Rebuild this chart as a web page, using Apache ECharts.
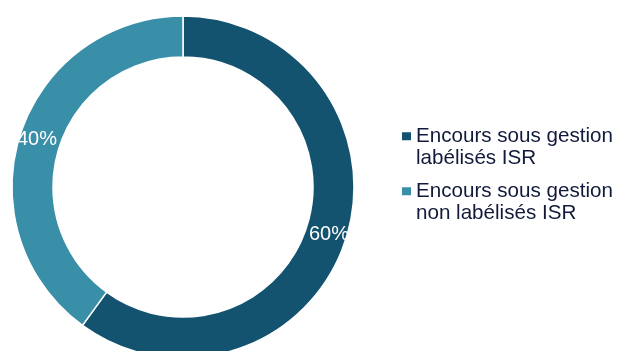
<!DOCTYPE html>
<html>
<head>
<meta charset="utf-8">
<script src="https://cdn.jsdelivr.net/npm/echarts@6/dist/echarts.min.js"></script>
<style>html,body{margin:0;padding:0;background:#fff;}#c{width:619px;height:351px;}</style>
</head>
<body>
<div id="c"></div>
<script>
const categories = ['Encours sous gestion\nlabélisés ISR', 'Encours sous gestion\nnon labélisés ISR'];
const values = [60, 40];
const colors = ['#13536F', '#3A8FA8'];

const chart = echarts.init(document.getElementById('c'), null, {renderer: 'canvas'});
const rich = {
  t: {fontFamily: 'Liberation Sans, Arial, sans-serif', fontSize: 20.6, color: '#111A3A', lineHeight: 22.5},
  ind: {width: 14, height: 8, lineHeight: 22.5},
  g: {width: 5, height: 8, lineHeight: 22.5}
};
colors.forEach((c, i) => {
  rich['sq' + i] = {width: 9, height: 8, backgroundColor: c, verticalAlign: 'middle', lineHeight: 22.5};
});
chart.setOption({
  animation: false,
  legend: {
    orient: 'vertical',
    left: 397,
    top: 125,
    padding: 0,
    itemGap: 10,
    itemWidth: 0,
    itemHeight: 0,
    icon: 'none',
    selectedMode: false,
    data: categories,
    formatter: function (name) {
      const i = categories.indexOf(name);
      const lines = name.split('\n');
      return '{sq' + i + '|}{g|}{t|' + lines[0] + '}\n{ind|}{t|' + lines[1] + '}';
    },
    textStyle: {rich: rich, lineHeight: 22.5}
  },
  series: [{
    type: 'pie',
    center: [183, 187],
    radius: [130, 171],
    startAngle: 90,
    clockwise: true,
    avoidLabelOverlap: false,
    emphasis: {disabled: true},
    itemStyle: {borderColor: '#ffffff', borderWidth: 1.5},
    label: {
      show: true,
      position: 'inside',
      formatter: '{d}%',
      color: '#ffffff',
      fontFamily: 'Liberation Sans, Arial, sans-serif',
      fontSize: 20
    },
    labelLine: {show: false},
    data: categories.map((n, i) => ({name: n, value: values[i], itemStyle: {color: colors[i]}}))
  }]
});
</script>
</body>
</html>
